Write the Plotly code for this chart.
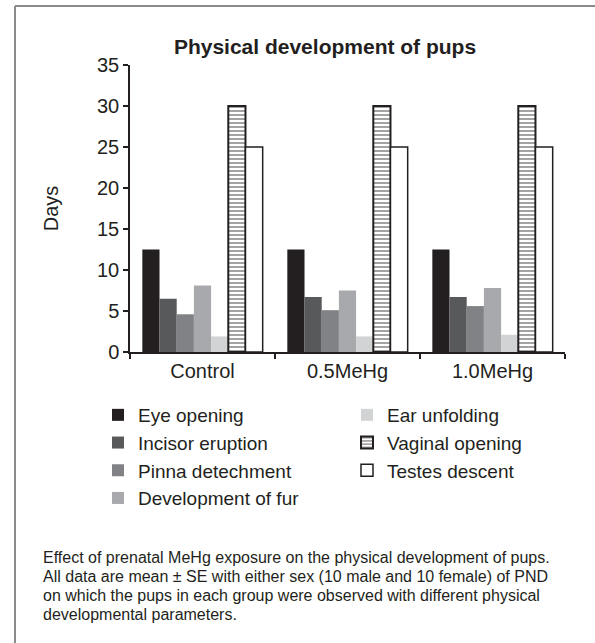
import plotly.graph_objects as go

categories = ["Control", "0.5MeHg", "1.0MeHg"]
eye_opening = [12.5, 12.5, 12.5]
incisor_eruption = [6.5, 6.7, 6.7]
pinna_detachment = [4.6, 5.1, 5.6]
development_of_fur = [8.1, 7.5, 7.8]
ear_unfolding = [1.9, 1.9, 2.1]
vaginal_opening = [30, 30, 30]
testes_descent = [25, 25, 25]
caption_lines = [
    "Effect of prenatal MeHg exposure on the physical development of pups.",
    "All data are mean ± SE with either sex (10 male and 10 female) of PND",
    "on which the pups in each group were observed with different physical",
    "developmental parameters.",
]

W, H = 595, 643
L, R, T, B = 130, 565, 65, 352
INK = "#231f20"
pw, ph = R - L, B - T


def px(x):
    return (x - L) / pw


def py(y):
    return (B - y) / ph


fig = go.Figure()
series = [
    ("Eye opening", eye_opening, "#231f20", "legend"),
    ("Incisor eruption", incisor_eruption, "#58595b", "legend"),
    ("Pinna detechment", pinna_detachment, "#808285", "legend"),
    ("Development of fur", development_of_fur, "#a7a9ac", "legend"),
    ("Ear unfolding", ear_unfolding, "#d1d3d4", "legend2"),
]
for name, vals, col, lg in series:
    fig.add_trace(go.Bar(x=categories, y=vals, name=name, legend=lg,
                         marker=dict(color=col, line=dict(width=0))))
fig.add_trace(go.Bar(x=categories, y=vaginal_opening, name="Vaginal opening", legend="legend2",
                     marker=dict(color="white",
                                 pattern=dict(shape="-", fgcolor="#333333", bgcolor="white",
                                              size=4, solidity=0.45),
                                 line=dict(color=INK, width=2))))
fig.add_trace(go.Bar(x=categories, y=testes_descent, name="Testes descent", legend="legend2",
                     marker=dict(color="white", line=dict(color=INK, width=1.5))))

font_main = "Liberation Sans, Arial, sans-serif"
leg_common = dict(orientation="v", xref="paper", yref="paper", xanchor="left",
                  yanchor="top", traceorder="normal", font=dict(size=19, color=INK),
                  bgcolor="rgba(0,0,0,0)", tracegroupgap=0, itemwidth=30)
fig.update_layout(
    width=W, height=H,
    margin=dict(l=L, r=W - R, t=T, b=H - B, pad=0, autoexpand=False),
    paper_bgcolor="white", plot_bgcolor="white",
    barmode="group", bargap=0.17, bargroupgap=0,
    font=dict(family=font_main, size=20, color=INK),
    title=dict(text="<b>Physical development of pups</b>", xref="container", yref="container",
               x=325 / W, xanchor="center", y=1 - 47 / H, yanchor="middle",
               font=dict(size=21, color=INK)),
    xaxis=dict(type="category", showline=True, linecolor=INK, linewidth=1.5,
               ticks="outside", tickson="boundaries", ticklen=5, tickcolor=INK,
               tickwidth=1.5, showgrid=False, tickfont=dict(size=20), automargin=False),
    yaxis=dict(range=[0, 35], dtick=5, showline=True, linecolor=INK, linewidth=1.5,
               ticks="outside", ticklen=5, tickcolor=INK, tickwidth=1.5,
               showgrid=False, zeroline=False, tickfont=dict(size=20), automargin=False,
               title=dict(text="Days", font=dict(size=20), standoff=33)),
    legend=dict(x=px(98), y=py(396), **leg_common),
    legend2=dict(x=px(347), y=py(396), **leg_common),
    showlegend=True,
)

# frame (left and top edges visible)
fig.add_shape(type="line", xref="paper", yref="paper", x0=px(15), x1=px(15), y0=py(6), y1=py(700),
              line=dict(color="#8c8c8c", width=2))
fig.add_shape(type="line", xref="paper", yref="paper", x0=px(15), x1=px(650), y0=py(6), y1=py(6),
              line=dict(color="#8c8c8c", width=2))

for i, line in enumerate(caption_lines):
    fig.add_annotation(text=line, xref="paper", yref="paper", x=px(41), y=py(557 + 19 * i),
                       xanchor="left", yanchor="middle", align="left", showarrow=False,
                       font=dict(size=16, color=INK, family=font_main))

fig.write_html("out.html", config={"displayModeBar": False},
               post_script="document.body.style.margin='0px';document.body.style.padding='0px';")
